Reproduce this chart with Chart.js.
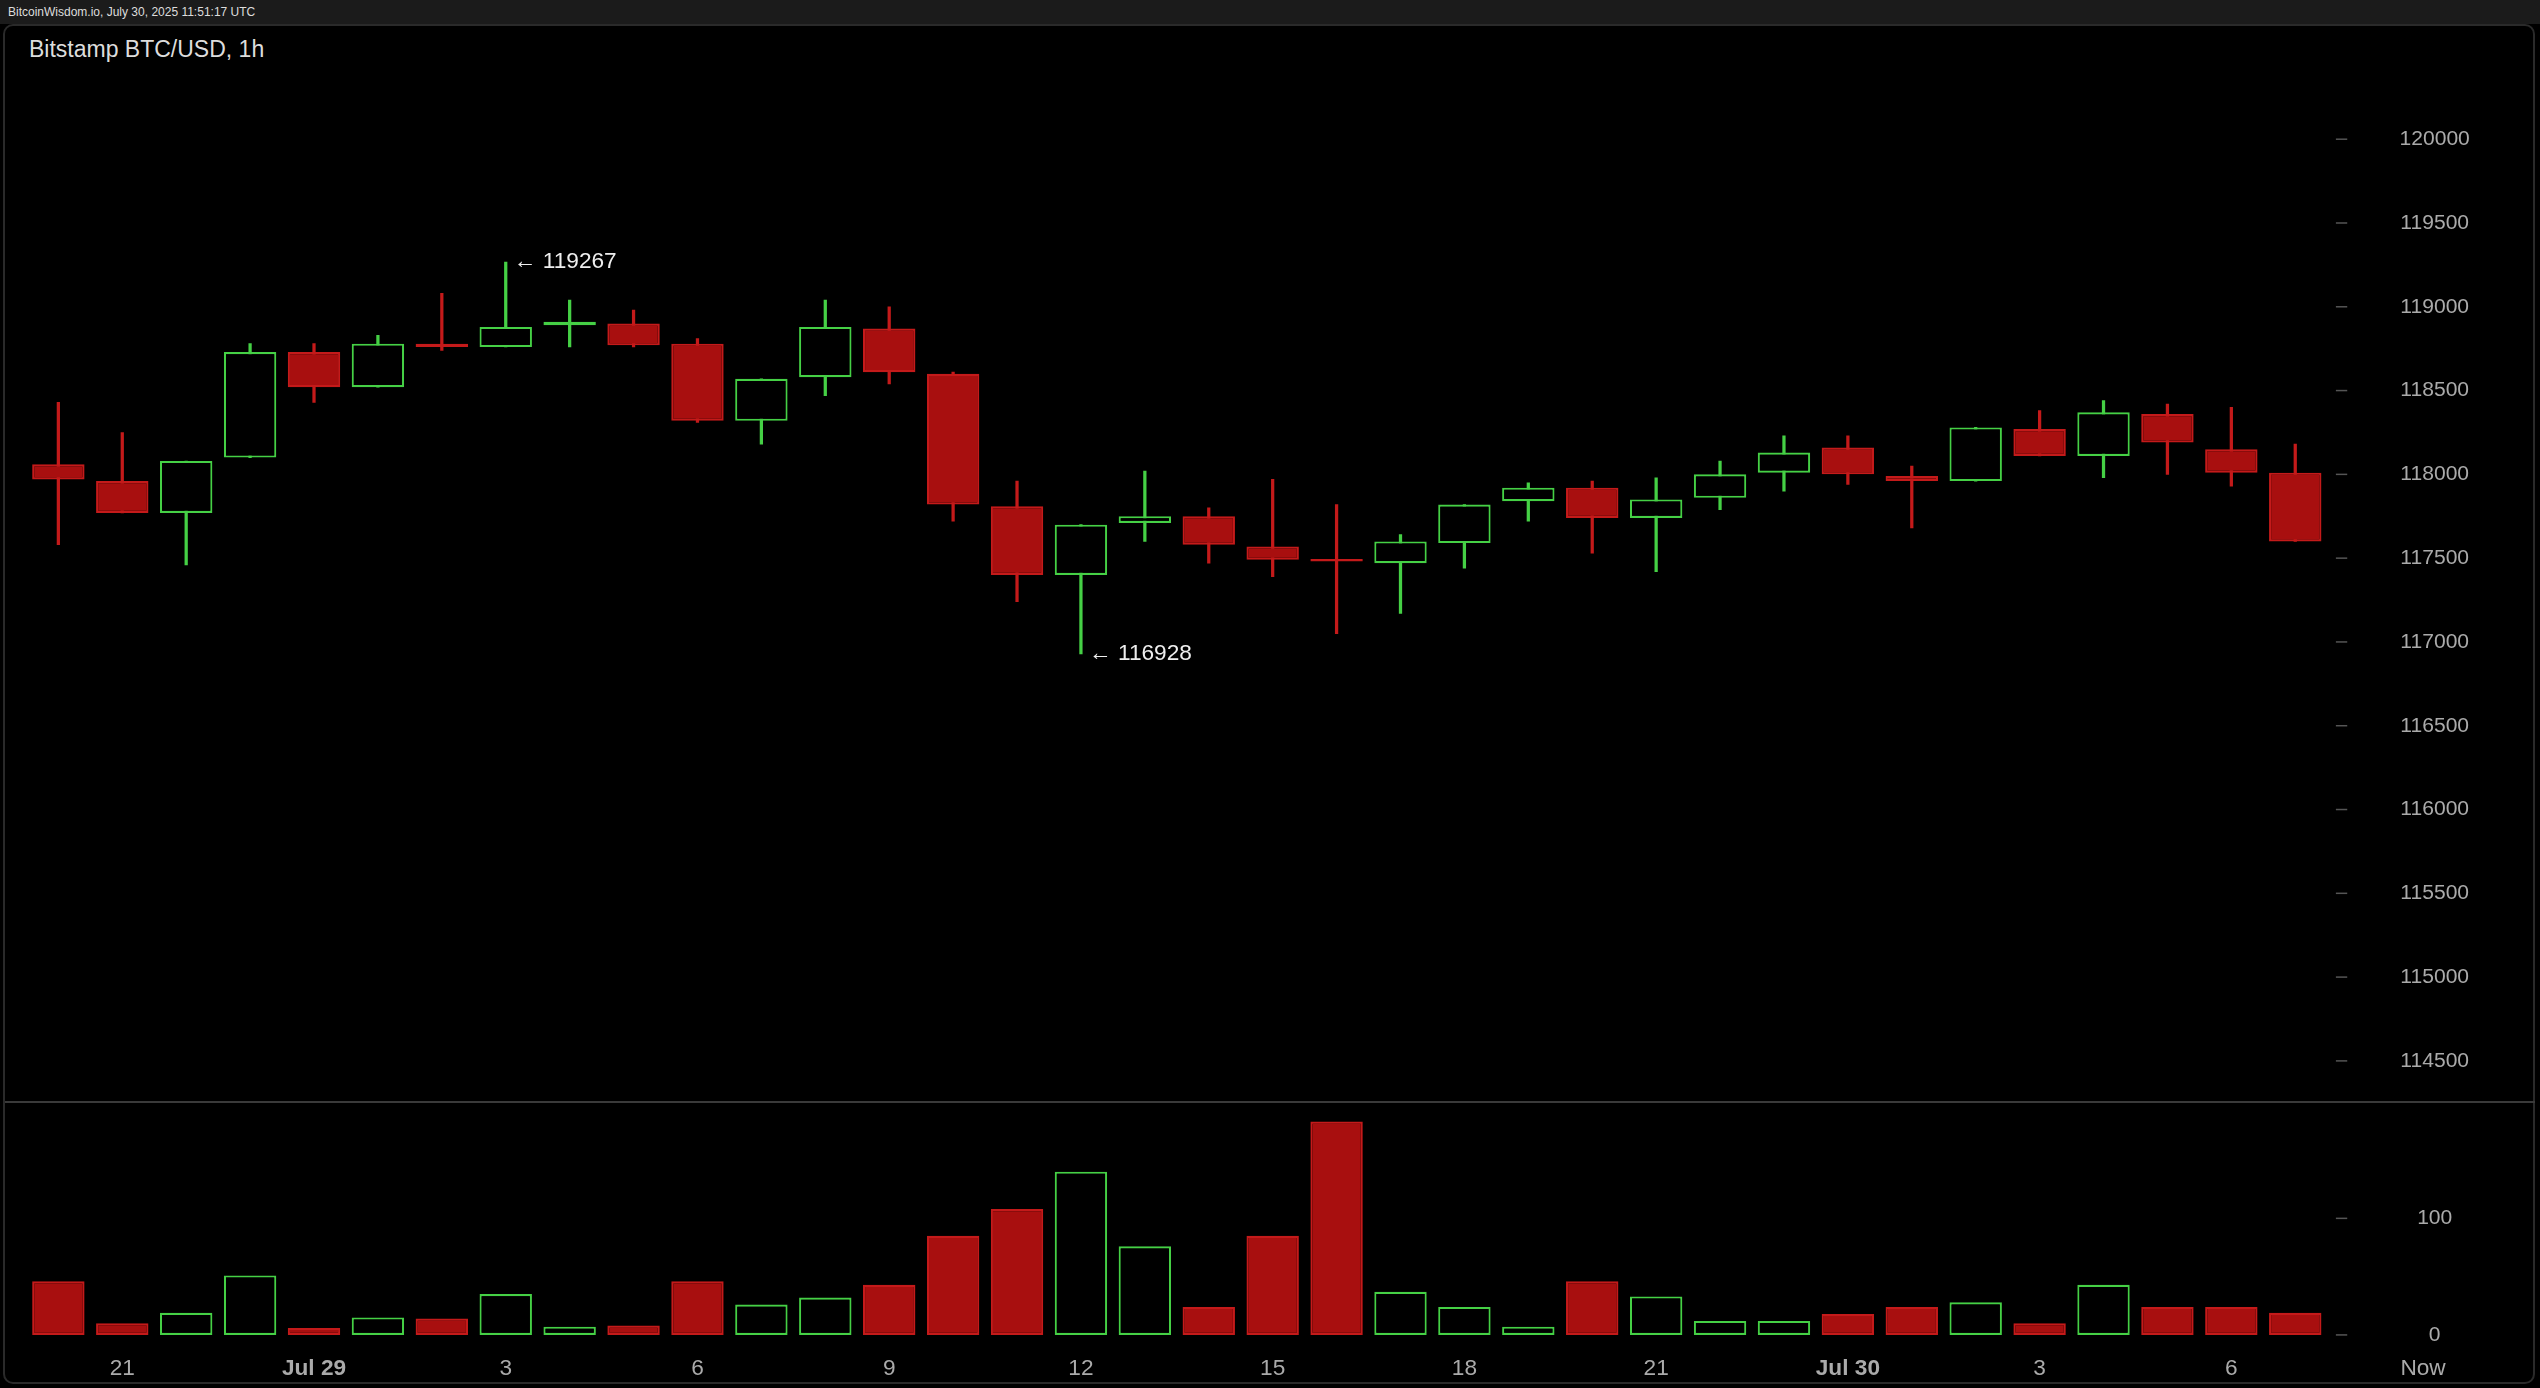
<!DOCTYPE html>
<html><head><meta charset="utf-8">
<script src="https://cdn.jsdelivr.net/npm/chart.js@4/dist/chart.umd.min.js"></script>
<style>
html,body{margin:0;padding:0;background:#000;width:2540px;height:1388px;overflow:hidden;font-family:"Helvetica","Liberation Sans",Arial,sans-serif;}
#topbar{position:absolute;left:0;top:0;width:2540px;height:24px;background:#1b1b1b;color:#ddd;font-size:12px;line-height:24px;padding-left:8px;box-sizing:border-box;}
#panel{position:absolute;left:3px;top:24px;width:2532px;height:1360px;border:2px solid #2a2a2a;border-radius:10px;box-sizing:border-box;}
#title{position:absolute;left:29px;top:36px;color:#ddd;font-size:23px;}
#sep{position:absolute;left:5px;top:1101px;width:2530px;height:2px;background:#3a3a3a;}
canvas{position:absolute;left:0;}
</style></head><body>
<div id="topbar">BitcoinWisdom.io, July 30, 2025 11:51:17 UTC</div>
<div id="panel"></div>
<div id="title">Bitstamp BTC/USD, 1h</div>
<div id="sep"></div>
<div id="c1w" style="position:absolute;left:0;top:0;width:2540px;height:1101px"><canvas id="c1"></canvas></div>
<div id="c2w" style="position:absolute;left:0;top:1103px;width:2540px;height:285px"><canvas id="c2"></canvas></div>
<script>
const hours=[20,21,22,23,0,1,2,3,4,5,6,7,8,9,10,11,12,13,14,15,16,17,18,19,20,21,22,23,0,1,2,3,4,5,6,7,8,9,10];
const opens =[118060,117960,117770,118100,118730,118520,118780,118760,118890,118900,118780,118320,118580,118870,118600,117810,117400,117710,117750,117570,117480,117470,117590,117840,117920,117740,117860,118010,118160,117990,117960,118270,118110,118360,118150,118010];
const highs =[118430,118250,118080,118780,118780,118830,119080,119267,119040,118980,118810,118570,119040,119000,118610,117960,117700,118020,117800,117970,117820,117640,117820,117950,117960,117980,118080,118230,118230,118050,118280,118380,118440,118420,118400,118180];
const lows  =[117580,117770,117460,118100,118430,118520,118740,118760,118760,118760,118310,118180,118470,118540,117720,117240,116928,117600,117470,117390,117050,117170,117440,117720,117530,117420,117790,117900,117940,117680,117960,118110,117980,118000,117930,117600];
const closes=[117970,117770,118080,118730,118520,118780,118760,118880,118910,118770,118320,118570,118880,118610,117820,117400,117700,117750,117580,117490,117470,117600,117820,117920,117740,117850,118000,118130,118000,117960,118280,118110,118370,118190,118010,117600];
const volumes=[46,10,19,51,6,15,14,35,7,8,46,26,32,43,85,108,140,76,24,85,183,37,24,7,46,33,12,12,18,24,28,10,43,24,24,19];
const priceTicks=[114500,115000,115500,116000,116500,117000,117500,118000,118500,119000,119500,120000];
const volTicks=[0,100];
const notes=[{i:7,v:119267,t:"← 119267"},{i:16,v:116928,t:"← 116928"}];

const k=2540/1568;
const GREEN='#45d045', RED='#a80f0f', REDB='#c41a1a';
const labels=hours.map((h,i)=>String(i));
const up=opens.map((o,i)=>closes[i]>=o);
const bodyCol=up.map(u=>u?'#000':RED), bodyBorder=up.map(u=>u?GREEN:REDB), wickCol=up.map(u=>u?GREEN:REDB);
const padL=16.3*k, padR=2540-1555*k;

function yLabels(ticks,fmt){return{id:'yl',afterDraw(c){const ctx=c.ctx,y=c.scales.y;ctx.save();ctx.font=(13*k)+'px Helvetica, "Liberation Sans", Arial';ctx.fillStyle='#aaa';ctx.textAlign='center';ctx.textBaseline='middle';ctx.strokeStyle='#555';ctx.lineWidth=1.5;
 ticks.forEach(t=>{const py=y.getPixelForValue(t);ctx.fillText(String(t),1503*k,py);ctx.beginPath();ctx.moveTo(1442*k,py);ctx.lineTo(1449*k,py);ctx.stroke();});ctx.restore();}}}

new Chart(document.getElementById('c1'),{type:'bar',
 data:{labels,datasets:[
  {data:lows.map((l,i)=>[l,highs[i]]),backgroundColor:wickCol,barThickness:1.6*k,order:2,grouped:false},
  {data:opens.map((o,i)=>[o,Math.abs(closes[i]-o)<15?o+15:closes[i]]),backgroundColor:bodyCol,borderColor:bodyBorder,borderWidth:1.3*k,borderSkipped:false,barPercentage:0.82,categoryPercentage:1,order:1,grouped:false}
 ]},
 options:{responsive:true,maintainAspectRatio:false,animation:false,
  layout:{padding:{left:padL,right:padR,top:40*k,bottom:5*k}},
  plugins:{legend:{display:false},tooltip:{enabled:false}},
  scales:{x:{display:false},y:{display:false,min:114309,max:120444}}},
 plugins:[yLabels(priceTicks),{id:'notes',afterDraw(c){const ctx=c.ctx;ctx.save();ctx.font=(14*k)+'px Helvetica, "Liberation Sans", Arial';ctx.fillStyle='#eee';ctx.textBaseline='middle';
  notes.forEach(n=>{ctx.fillText(n.t,c.scales.x.getPixelForValue(n.i)+5*k,c.scales.y.getPixelForValue(n.v));});ctx.restore();}}]
});

new Chart(document.getElementById('c2'),{type:'bar',
 data:{labels,datasets:[{data:volumes,backgroundColor:bodyCol,borderColor:bodyBorder,borderWidth:1.3*k,borderSkipped:false,barPercentage:0.82,categoryPercentage:1}]},
 options:{responsive:true,maintainAspectRatio:false,animation:false,
  layout:{padding:{left:padL,right:padR,top:5*k,bottom:(857-823)*k-2}},
  plugins:{legend:{display:false},tooltip:{enabled:false}},
  scales:{x:{display:false},y:{display:false,min:0,max:192}}},
 plugins:[yLabels(volTicks),{id:'xl',afterDraw(c){const ctx=c.ctx,x=c.scales.x;ctx.save();ctx.fillStyle='#aaa';ctx.textAlign='center';ctx.textBaseline='middle';
  hours.forEach((h,i)=>{let t=null,b=false;if(i===37){t='Now';}else if(i<37&&h%3===0){if(h===0){t=(i<10?'Jul 29':'Jul 30');b=true;}else t=String(h);}
   if(t){ctx.font=(b?'bold ':'')+(14*k)+'px Helvetica, "Liberation Sans", Arial';ctx.fillText(t,x.getPixelForValue(i),c.height-12*k);}});ctx.restore();}}]
});
</script></body></html>
